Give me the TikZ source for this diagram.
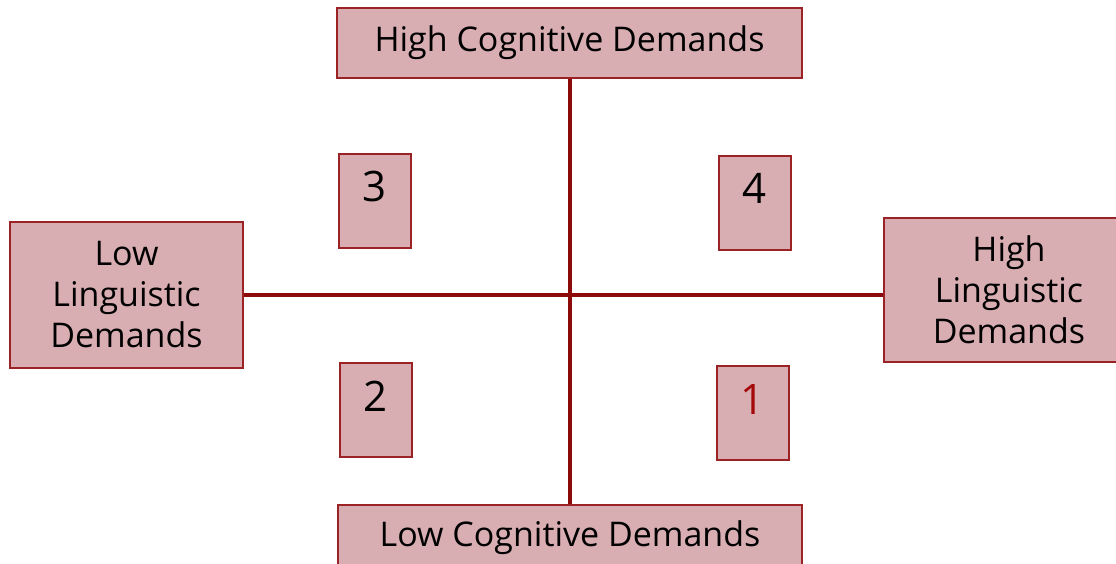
\documentclass[tikz,border=0pt]{standalone}
\usepackage{fontspec}
\setmainfont{Open Sans}
\definecolor{boxfill}{RGB}{217,174,179}
\definecolor{boxdraw}{RGB}{155,35,38}
\definecolor{axis}{RGB}{140,10,10}
\definecolor{numred}{RGB}{165,10,10}
\begin{document}
\begin{tikzpicture}[x=1pt,y=-1pt,
  quad/.style={draw=boxdraw,fill=boxfill,line width=2pt,inner sep=0pt,align=center,
    font=\fontsize{34}{41}\selectfont},
  numbox/.style={draw=boxdraw,fill=boxfill,line width=2pt,inner sep=0pt,
    minimum width=72pt,text height=48pt,text depth=46pt,font=\fontsize{42}{48}\selectfont},
  axisline/.style={draw=axis,line width=4pt}]
\useasboundingbox (0,0) rectangle (1116,564);
\clip (0,0) rectangle (1116,564);
\node[quad,minimum width=465pt,minimum height=70pt] (top) at (569.5,43) {High Cognitive Demands};
\node[quad,minimum width=464pt,minimum height=66pt] (bot) at (570,538) {Low Cognitive Demands};
\node[quad,minimum width=233pt,minimum height=146pt] (left) at (126.5,295) {Low\\Linguistic\\Demands};
\node[quad,minimum width=250pt,minimum height=144pt] (right) at (1009,290) {High\\Linguistic\\Demands};
\node[numbox] (n3) at (375,201) {3};
\node[numbox] (n4) at (754.5,203) {4};
\node[numbox] (n2) at (375.5,410) {2};
\node[numbox,text=numred] (n1) at (752.5,413) {1};
\draw[axisline] (top.south -| bot.north) -- (bot.north);
\draw[axisline] (left.east) -- (left.east -| right.west);
\end{tikzpicture}
\end{document}
